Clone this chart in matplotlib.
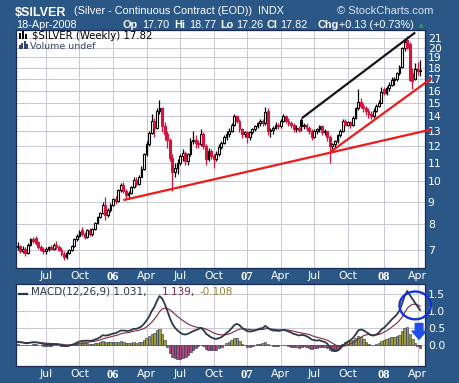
import numpy as np
import pandas as pd
import matplotlib
matplotlib.use('Agg')
import matplotlib.pyplot as plt
from matplotlib.patches import Ellipse, Rectangle
from matplotlib.ticker import NullLocator

# weekly bars, Monday-dated, 18-Apr-2005 .. 14-Apr-2008
opens = [
    7.10, 7.15, 6.95, 7.05, 6.90, 7.20, 7.40, 7.45, 7.30, 7.10,
    7.00, 6.95, 7.05, 7.10, 7.05, 7.20, 7.10, 7.00, 6.85, 6.75,
    6.90, 7.00, 7.15, 7.40, 7.55, 7.75, 7.60, 7.50, 7.75, 7.60,
    7.80, 8.05, 8.30, 8.50, 8.85, 8.40, 8.60, 8.85, 9.10, 9.05,
    9.55, 9.80, 9.50, 9.30, 9.40, 9.70, 10.05, 9.85, 10.25, 10.65,
    11.50, 12.10, 12.85, 13.70, 13.20, 14.40, 14.60, 13.30, 12.80, 12.40,
    11.30, 10.50, 10.70, 11.00, 11.40, 11.60, 11.10, 11.50, 12.30, 12.40,
    12.20, 12.10, 12.80, 12.00, 11.20, 11.70, 11.40, 11.20, 11.50, 11.95,
    12.20, 12.60, 12.80, 13.00, 13.40, 14.00, 13.70, 13.10, 12.80, 12.90,
    12.60, 12.90, 13.10, 13.30, 13.50, 13.70, 13.50, 14.40, 13.00, 13.05,
    13.20, 13.40, 13.30, 13.70, 14.00, 13.70, 13.50, 13.40, 13.10, 13.20,
    13.75, 13.30, 13.40, 13.20, 13.00, 12.60, 13.00, 13.10, 13.30, 12.90,
    12.95, 12.60, 12.00, 12.10, 12.30, 12.70, 13.00, 13.70, 13.40, 13.60,
    13.40, 13.90, 14.60, 15.10, 14.80, 14.60, 14.40, 14.20, 14.05, 14.40,
    14.80, 15.00, 16.10, 15.80, 16.20, 16.50, 16.90, 17.00, 17.50, 18.10,
    19.90, 20.80, 20.40, 17.50, 17.00, 18.00, 17.70]
highs = [
    7.30, 7.20, 7.15, 7.10, 7.25, 7.45, 7.50, 7.55, 7.35, 7.20,
    7.10, 7.10, 7.15, 7.20, 7.25, 7.35, 7.20, 7.10, 6.95, 6.95,
    7.05, 7.20, 7.45, 7.60, 7.75, 7.90, 7.70, 7.80, 7.85, 7.85,
    8.10, 8.35, 8.55, 9.00, 9.20, 8.70, 8.95, 9.15, 9.25, 9.60,
    9.90, 9.95, 9.60, 9.50, 9.75, 10.20, 10.25, 10.35, 10.80, 11.60,
    12.30, 13.00, 14.20, 13.90, 14.60, 15.25, 14.70, 13.60, 13.00, 12.50,
    11.50, 11.00, 11.20, 11.50, 11.80, 11.70, 11.60, 12.50, 13.00, 12.70,
    12.40, 13.10, 12.90, 12.10, 11.90, 11.80, 11.50, 11.70, 12.10, 12.30,
    12.70, 13.00, 13.20, 13.50, 14.20, 14.10, 13.80, 13.20, 13.00, 13.00,
    13.00, 13.20, 13.40, 13.60, 13.80, 13.80, 14.70, 14.60, 13.20, 13.30,
    13.60, 13.50, 13.80, 14.20, 14.10, 13.90, 13.70, 13.50, 13.40, 13.30,
    13.90, 13.50, 13.50, 13.30, 13.10, 13.10, 13.20, 13.40, 13.40, 13.10,
    13.00, 12.70, 12.20, 12.40, 12.80, 13.10, 13.80, 13.80, 13.70, 13.70,
    14.00, 14.70, 16.10, 15.40, 15.00, 14.80, 14.60, 14.40, 14.60, 14.90,
    15.20, 16.30, 16.30, 16.40, 16.70, 17.20, 17.20, 17.60, 18.30, 20.10,
    21.00, 21.20, 20.60, 18.00, 18.50, 18.60, 18.77]
lows = [
    7.00, 6.90, 6.90, 6.78, 6.85, 7.15, 7.25, 7.20, 7.05, 6.95,
    6.85, 6.85, 6.95, 7.00, 7.00, 7.05, 6.95, 6.80, 6.64, 6.70,
    6.85, 6.95, 7.10, 7.35, 7.50, 7.55, 7.40, 7.45, 7.55, 7.55,
    7.75, 8.00, 8.25, 8.45, 8.20, 8.30, 8.55, 8.80, 8.90, 9.00,
    9.45, 9.40, 9.15, 9.10, 9.35, 9.65, 9.75, 9.80, 10.20, 10.60,
    11.40, 12.00, 12.80, 12.60, 13.10, 14.20, 12.90, 12.40, 11.90, 11.10,
    9.50, 10.20, 10.40, 10.90, 11.10, 10.90, 10.90, 11.40, 12.10, 11.90,
    11.90, 12.00, 11.80, 10.90, 11.10, 11.20, 10.70, 11.10, 11.40, 11.80,
    12.10, 12.40, 12.60, 12.90, 13.30, 13.50, 12.90, 12.50, 12.60, 12.20,
    12.40, 12.80, 13.00, 13.20, 13.30, 13.30, 13.40, 12.70, 12.60, 12.80,
    13.10, 13.10, 13.20, 13.60, 13.50, 13.30, 13.20, 12.90, 12.90, 12.90,
    13.00, 13.10, 13.00, 12.80, 12.40, 12.50, 12.80, 12.90, 12.70, 12.70,
    12.30, 11.00, 11.80, 11.90, 12.20, 12.60, 12.90, 13.30, 13.30, 13.20,
    13.30, 13.80, 14.50, 14.60, 14.30, 14.10, 13.90, 13.80, 13.90, 14.30,
    14.70, 15.00, 15.60, 15.60, 16.00, 16.40, 16.50, 16.80, 17.30, 18.00,
    19.60, 19.80, 16.80, 16.10, 16.90, 17.30, 17.26]
closes = [
    7.15, 6.95, 7.05, 6.90, 7.20, 7.40, 7.35, 7.25, 7.10, 7.00,
    6.95, 7.05, 7.10, 7.05, 7.20, 7.10, 7.00, 6.85, 6.75, 6.90,
    7.00, 7.15, 7.40, 7.55, 7.70, 7.60, 7.50, 7.75, 7.60, 7.80,
    8.05, 8.30, 8.50, 8.85, 8.40, 8.60, 8.85, 9.10, 9.05, 9.55,
    9.80, 9.50, 9.30, 9.40, 9.70, 10.05, 9.85, 10.25, 10.65, 11.50,
    12.10, 12.85, 13.70, 13.20, 14.40, 14.60, 13.30, 12.80, 12.40, 11.30,
    10.50, 10.70, 11.00, 11.40, 11.60, 11.10, 11.50, 12.30, 12.40, 12.20,
    12.10, 12.80, 12.00, 11.20, 11.70, 11.40, 11.20, 11.50, 11.95, 12.20,
    12.60, 12.80, 13.00, 13.40, 14.00, 13.70, 13.10, 12.80, 12.90, 12.60,
    12.90, 13.10, 13.30, 13.50, 13.70, 13.50, 14.30, 13.00, 13.05, 13.20,
    13.40, 13.30, 13.70, 14.00, 13.70, 13.50, 13.40, 13.10, 13.20, 13.05,
    13.30, 13.40, 13.20, 13.00, 12.60, 13.00, 13.10, 13.30, 12.90, 12.95,
    12.60, 12.00, 12.10, 12.30, 12.70, 13.00, 13.70, 13.40, 13.60, 13.40,
    13.90, 14.60, 15.10, 14.80, 14.60, 14.40, 14.20, 14.05, 14.40, 14.80,
    15.00, 15.90, 15.80, 16.20, 16.50, 16.90, 17.00, 17.50, 18.10, 19.90,
    20.60, 20.00, 16.90, 16.80, 17.90, 17.69, 17.82]

macd = [
    0.08, 0.07, 0.06, 0.04, 0.04, 0.06, 0.07, 0.07, 0.06, 0.04,
    0.02, 0.01, 0.01, 0.00, 0.01, 0.01, 0.00, -0.02, -0.04, -0.04,
    -0.03, -0.01, 0.02, 0.06, 0.09, 0.11, 0.11, 0.12, 0.11, 0.12,
    0.15, 0.18, 0.22, 0.28, 0.27, 0.28, 0.30, 0.33, 0.34, 0.38,
    0.42, 0.42, 0.41, 0.41, 0.43, 0.47, 0.47, 0.50, 0.54, 0.62,
    0.72, 0.84, 1.00, 1.12, 1.30, 1.45, 1.38, 1.22, 1.02, 0.80,
    0.62, 0.50, 0.42, 0.36, 0.31, 0.30, 0.32, 0.36, 0.40, 0.43,
    0.46, 0.50, 0.44, 0.33, 0.27, 0.22, 0.18, 0.17, 0.19, 0.22,
    0.28, 0.35, 0.41, 0.49, 0.58, 0.62, 0.58, 0.50, 0.45, 0.40,
    0.39, 0.40, 0.42, 0.45, 0.48, 0.49, 0.56, 0.50, 0.45, 0.42,
    0.42, 0.41, 0.42, 0.44, 0.42, 0.39, 0.36, 0.32, 0.30, 0.27,
    0.29, 0.28, 0.25, 0.21, 0.15, 0.13, 0.12, 0.13, 0.10, 0.08,
    0.03, -0.08, -0.15, -0.19, -0.18, -0.13, -0.03, 0.03, 0.09, 0.13,
    0.20, 0.30, 0.42, 0.45, 0.43, 0.38, 0.33, 0.28, 0.27, 0.30,
    0.35, 0.45, 0.50, 0.58, 0.66, 0.75, 0.82, 0.90, 1.02, 1.22,
    1.45, 1.60, 1.48, 1.37, 1.25, 1.14, 1.031]
signal = [
    0.07, 0.07, 0.07, 0.06, 0.06, 0.06, 0.06, 0.06, 0.06, 0.06,
    0.05, 0.04, 0.04, 0.03, 0.03, 0.02, 0.02, 0.01, 0.00, -0.01,
    -0.01, -0.01, 0.00, 0.01, 0.03, 0.04, 0.05, 0.07, 0.08, 0.09,
    0.10, 0.12, 0.14, 0.17, 0.19, 0.21, 0.23, 0.25, 0.27, 0.29,
    0.32, 0.34, 0.35, 0.36, 0.38, 0.40, 0.41, 0.43, 0.45, 0.48,
    0.53, 0.59, 0.67, 0.76, 0.86, 0.98, 1.06, 1.09, 1.08, 1.04,
    0.98, 0.91, 0.84, 0.78, 0.72, 0.67, 0.62, 0.58, 0.55, 0.53,
    0.51, 0.50, 0.49, 0.46, 0.43, 0.39, 0.35, 0.32, 0.30, 0.29,
    0.29, 0.30, 0.32, 0.35, 0.39, 0.43, 0.46, 0.47, 0.47, 0.46,
    0.45, 0.44, 0.44, 0.44, 0.45, 0.45, 0.47, 0.48, 0.47, 0.46,
    0.45, 0.44, 0.44, 0.44, 0.44, 0.43, 0.42, 0.40, 0.38, 0.36,
    0.35, 0.33, 0.32, 0.30, 0.27, 0.24, 0.22, 0.20, 0.18, 0.16,
    0.13, 0.09, 0.04, 0.00, -0.04, -0.06, -0.05, -0.04, -0.01, 0.02,
    0.05, 0.10, 0.17, 0.22, 0.26, 0.29, 0.30, 0.29, 0.29, 0.29,
    0.30, 0.33, 0.37, 0.41, 0.46, 0.52, 0.58, 0.64, 0.72, 0.82,
    0.95, 1.08, 1.16, 1.20, 1.21, 1.19, 1.139]

# hand-drawn trend lines: (bar index, price) end points
red_long = ([41.0, 160.6], [9.07, 13.09])
red_steep = ([121.4, 160.5], [11.66, 17.06])
black_top = ([110.2, 154.1], [13.87, 21.62])

price_ticks = list(range(7, 22))
macd_ticks = [0.0, 0.5, 1.0, 1.5]

BG = '#2b5786'
RED = '#d4143c'
GRID = '#c8c8d2'
NAVY = '#1b2a52'
W, H = 460, 383

dates = pd.date_range('2005-04-18', periods=len(closes), freq='W-MON')
x = np.arange(len(closes))
o, h, l, c = map(np.array, (opens, highs, lows, closes))

# quarter grid: first bar of Jan/Apr/Jul/Oct
qpos, qlab = [], []
for i in range(1, len(dates)):
    if dates[i].month != dates[i - 1].month and dates[i].month in (1, 4, 7, 10):
        qpos.append(i)
        qlab.append(dates[i].strftime('%y') if dates[i].month == 1 else dates[i].strftime('%b'))

fig = plt.figure(figsize=(W / 100, H / 100), dpi=100)
fig.patch.set_facecolor(BG)
ax = fig.add_axes([16 / W, 1 - 268 / H, 409 / W, 238 / H])
ax2 = fig.add_axes([16 / W, 1 - 366 / H, 409 / W, 82 / H])


def style_axis(a):
    a.set_facecolor('white')
    a.set_xlim(-0.6, 157.9)
    a.set_axisbelow(True)
    a.grid(True, color=GRID, lw=0.7)
    for s in a.spines.values():
        s.set_color(NAVY)
        s.set_linewidth(0.9)
    a.yaxis.tick_right()
    a.set_xticks(qpos)
    a.set_xticklabels(qlab)
    a.tick_params(length=0, colors='white', labelsize=7.8)
    a.tick_params(axis='x', pad=2.5)
    a.tick_params(axis='y', pad=2)
    for lbl in a.get_xticklabels():
        if lbl.get_text().isdigit():
            lbl.set_fontweight('bold')
            lbl.set_family('Liberation Serif')
            lbl.set_fontsize(9)


# ---- price panel
prev = np.concatenate([[o[0]], c[:-1]])
edge = np.where(c >= prev, 'black', RED)
fill = np.where(c >= o, 'white', edge)
ax.vlines(x, l, h, colors=edge, lw=0.9, zorder=2)
ax.bar(x, np.maximum(np.abs(c - o), 0.03), bottom=np.minimum(o, c), width=0.7,
       color=fill, edgecolor=edge, lw=0.8, zorder=3)
for (xs, ys), col in ((red_long, '#ee1a1a'), (red_steep, '#ee1a1a'), (black_top, '#151515')):
    ax.plot(xs, ys, color=col, lw=1.6, clip_on=False, zorder=5, solid_capstyle='butt')

ax.set_yscale('log')
ax.set_ylim(6.38, 21.9)
style_axis(ax)
ax.set_yticks(price_ticks)
ax.set_yticklabels([str(v) for v in price_ticks])
ax.yaxis.set_minor_locator(NullLocator())

ax.text(0.039, 0.963, '$SILVER (Weekly) 17.82', transform=ax.transAxes, fontsize=7.3,
        color='black', va='baseline', family='DejaVu Sans')
ax.text(0.034, 0.921, 'Volume undef', transform=ax.transAxes, fontsize=6.8,
        color='#34446a', va='baseline', family='DejaVu Sans')
# little legend icons
for dx, y0, hh in ((19, 33, 6), (22, 31, 8), (25, 34, 5)):
    fig.add_artist(Rectangle((dx / W, 1 - (y0 + hh) / H), 2 / W, hh / H,
                             transform=fig.transFigure, facecolor='black', edgecolor='none'))
for dx, hh in ((19, 4), (21.5, 6), (24, 8), (26.5, 5)):
    fig.add_artist(Rectangle((dx / W, 1 - 49 / H), 2 / W, hh / H,
                             transform=fig.transFigure, facecolor='#34446a', edgecolor='none'))

# ---- MACD panel
hist = np.array(macd) - np.array(signal)
hcol = np.where(hist >= 0, '#a09c44', '#a84a7c')
ax2.bar(x, hist, width=0.95, color=hcol, edgecolor='#22304e', lw=0.4, zorder=2)
ax2.plot(x, signal, color='#7c2a3c', lw=0.8, zorder=3)
ax2.plot(x, macd, color='#2a3848', lw=1.3, zorder=4)
ax2.set_ylim(-0.64, 1.81)
style_axis(ax2)
ax2.set_yticks(macd_ticks)
ax2.set_yticklabels(['%.1f' % v for v in macd_ticks])

ax2.add_patch(Ellipse((154.1, 1.17), 12.2, 0.83, fill=False, edgecolor='#1634d6',
                      lw=1.7, clip_on=False, zorder=6))
ax2.annotate('', xy=(155.6, 0.16), xytext=(155.6, 0.63), annotation_clip=False,
             arrowprops=dict(arrowstyle='simple,head_length=0.58,head_width=1.0,tail_width=0.55',
                             color='#1f50e6', mutation_scale=10, shrinkA=0, shrinkB=0),
             zorder=6)

ax2.plot([0.008, 0.027], [0.88, 0.88], transform=ax2.transAxes, color='#2a3848', lw=1.6)
leg = [('MACD(12,26,9) 1.031,', 31, '#2a3848'), ('1.139,', 161.5, '#7c2a3c'),
       ('-0.108', 200, '#8a8630')]
for txt, px, col in leg:
    fig.text(px / W, 1 - 295 / H, txt, fontsize=7.5, color=col, family='DejaVu Sans',
             va='baseline')

# ---- header
fig.text(15 / W, 1 - 15.5 / H, '$SILVER', fontsize=9, fontweight='bold', color='white',
         family='Liberation Sans', va='baseline')
fig.text(74 / W, 1 - 14.5 / H, '(Silver - Continuous Contract (EOD))  INDX', fontsize=7.8,
         color='white', family='Liberation Sans', va='baseline')
fig.text(337 / W, 1 - 14.5 / H, '\u00a9 StockCharts.com', fontsize=8, color='#dce4ee',
         family='Liberation Sans', va='baseline')
fig.text(16 / W, 1 - 27.5 / H, '18-Apr-2008', fontsize=7.8, color='white',
         family='Liberation Sans', va='baseline')
quote = [('Op', 123, True), ('17.70', 142, False), ('Hi', 174, True), ('18.77', 189, False),
         ('Lo', 220, True), ('17.26', 236, False), ('Cl', 267, True), ('17.82', 280, False),
         ('Chg', 318, True), ('+0.13 (+0.73%)', 339, False)]
for txt, px, bold in quote:
    fig.text(px / W, 1 - 27.5 / H, txt, fontsize=7.8, color='white', family='Liberation Sans',
             fontweight='bold' if bold else 'normal', va='baseline')
fig.text(419 / W, 1 - 27 / H, '\u25b2', fontsize=4, color='#2fa83a', va='baseline',
         family='DejaVu Sans')

fig.savefig('out.png', dpi=100, facecolor=BG)
